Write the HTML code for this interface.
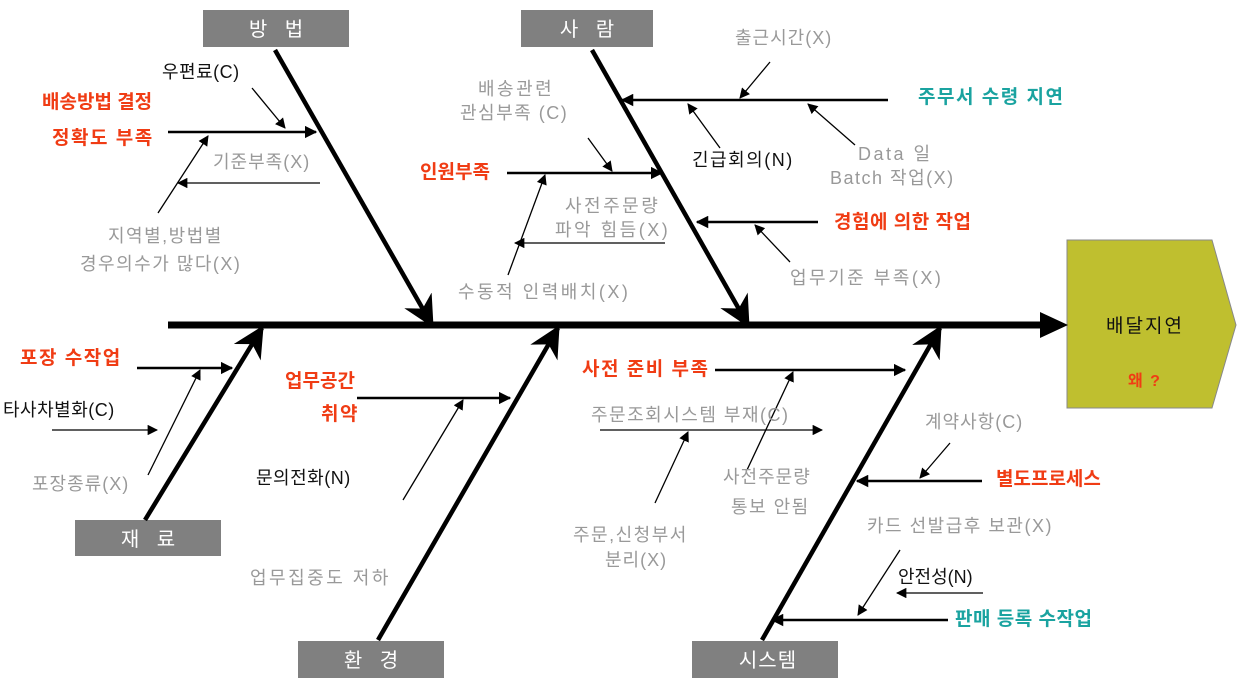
<!DOCTYPE html>
<html><head><meta charset="utf-8"><style>
html,body{margin:0;padding:0;background:#fff;}
svg{display:block;font-family:"Liberation Sans","Noto Sans CJK KR",sans-serif;}
text{letter-spacing:2.5px}
.g{fill:#999;font-size:18px}
.k{fill:#111;font-size:18px}
.r{fill:#f03c14;font-size:19px;font-weight:bold;letter-spacing:1.5px}
.t{fill:#1aa3a0;font-size:19px;font-weight:bold;letter-spacing:1.5px}
.bx{fill:#fff;font-size:20px;text-anchor:middle;letter-spacing:6px}
</style></head><body>
<svg width="1242" height="686" viewBox="0 0 1242 686">
<defs>
<marker id="a" viewBox="0 0 10 10" refX="9" refY="5" markerWidth="5" markerHeight="5" orient="auto"><path d="M0,0 L10,5 L0,10 z" fill="#000"/></marker>
<marker id="b" viewBox="0 0 10 10" refX="9" refY="5" markerWidth="8" markerHeight="8" orient="auto"><path d="M0,0 L10,5 L0,10 z" fill="#000"/></marker>
<marker id="s" viewBox="0 0 10 10" refX="9" refY="5" markerWidth="7" markerHeight="7" orient="auto"><path d="M0,0 L10,5 L0,10 L3,5 z" fill="#000"/></marker>
</defs>
<polygon points="1067,240 1212,240 1236,325 1212,408 1067,408" fill="#bfbf2f" stroke="#888" stroke-width="1"/>
<text x="1106" y="332" style="font-size:19px;fill:#111;letter-spacing:2px">배달지연</text>
<text x="1128" y="386" class="r" style="font-size:16px">왜 ?</text>
<line x1="168" y1="325" x2="1045" y2="325" stroke="#000" stroke-width="7"/>
<polygon points="1040,312 1068,325 1040,338" fill="#000"/>
<rect x="203" y="10" width="146" height="37" fill="#808080"/><text x="279" y="36" class="bx">방 법</text>
<rect x="521" y="10" width="132" height="37" fill="#808080"/><text x="590" y="36" class="bx">사 람</text>
<rect x="75" y="520" width="146" height="36" fill="#808080"/><text x="151" y="546" class="bx">재 료</text>
<rect x="298" y="641" width="146" height="37" fill="#808080"/><text x="374" y="667" class="bx">환 경</text>
<rect x="692" y="641" width="146" height="37" fill="#808080"/><text x="768" y="667" class="bx" style="letter-spacing:1px">시스템</text>
<g stroke="#000" stroke-width="4.5" fill="none" marker-end="url(#s)">
<line x1="275" y1="50" x2="432" y2="325"/>
<line x1="592" y1="50" x2="748" y2="325"/>
<line x1="145" y1="520" x2="262" y2="328"/>
<line x1="378" y1="640" x2="558" y2="328"/>
<line x1="762" y1="640" x2="940" y2="328"/>
</g>
<g stroke="#000" stroke-width="2.5" fill="none" marker-end="url(#a)">
<line x1="168" y1="132" x2="316" y2="132"/>
<line x1="888" y1="100" x2="622" y2="100"/>
<line x1="507" y1="173" x2="662" y2="173"/>
<line x1="818" y1="222" x2="697" y2="222"/>
<line x1="137" y1="368" x2="232" y2="368"/>
<line x1="357" y1="398" x2="510" y2="398"/>
<line x1="715" y1="370" x2="905" y2="370"/>
<line x1="982" y1="481" x2="857" y2="481"/>
<line x1="948" y1="620" x2="772" y2="620"/>
</g>
<g stroke="#000" stroke-width="1.3" fill="none" marker-end="url(#b)">
<line x1="252" y1="88" x2="285" y2="128"/>
<line x1="320" y1="183" x2="178" y2="183"/>
<line x1="158" y1="213" x2="208" y2="136"/>
<line x1="770" y1="62" x2="740" y2="98"/>
<line x1="720" y1="148" x2="688" y2="104"/>
<line x1="855" y1="145" x2="808" y2="104"/>
<line x1="588" y1="138" x2="612" y2="171"/>
<line x1="665" y1="243" x2="515" y2="243"/>
<line x1="508" y1="275" x2="545" y2="175"/>
<line x1="790" y1="262" x2="755" y2="225"/>
<line x1="52" y1="430" x2="157" y2="430"/>
<line x1="148" y1="475" x2="200" y2="370"/>
<line x1="403" y1="500" x2="463" y2="400"/>
<line x1="600" y1="430" x2="822" y2="430"/>
<line x1="655" y1="503" x2="688" y2="432"/>
<line x1="747" y1="470" x2="793" y2="372"/>
<line x1="950" y1="443" x2="920" y2="478"/>
<line x1="983" y1="593" x2="897" y2="593"/>
<line x1="900" y1="550" x2="858" y2="615"/>
</g>
<text x="162" y="78" class="k" style="letter-spacing:0.5px">우편료(C)</text>
<text x="42" y="108" class="r" style="letter-spacing:0">배송방법 결정</text>
<text x="52" y="144" class="r">정확도 부족</text>
<text x="213" y="168" class="g" style="letter-spacing:1px">기준부족(X)</text>
<text x="108" y="242" class="g" style="letter-spacing:1.5px">지역별,방법별</text>
<text x="80" y="270" class="g" style="letter-spacing:1.5px">경우의수가 많다(X)</text>
<text x="478" y="95" class="g">배송관련</text>
<text x="460" y="119" class="g" style="letter-spacing:1.5px">관심부족 (C)</text>
<text x="420" y="178" class="r" style="letter-spacing:0">인원부족</text>
<text x="565" y="212" class="g">사전주문량</text>
<text x="555" y="236" class="g">파악 힘듬(X)</text>
<text x="458" y="298" class="g">수동적 인력배치(X)</text>
<text x="735" y="44" class="g" style="letter-spacing:1px">출근시간(X)</text>
<text x="918" y="103" class="t">주무서 수령 지연</text>
<text x="692" y="166" class="k" style="letter-spacing:1.5px">긴급회의(N)</text>
<text x="858" y="160" class="g">Data 일</text>
<text x="830" y="184" class="g" style="letter-spacing:1.5px">Batch 작업(X)</text>
<text x="834" y="228" class="r" style="letter-spacing:0.5px">경험에 의한 작업</text>
<text x="790" y="284" class="g">업무기준 부족(X)</text>
<text x="20" y="364" class="r">포장 수작업</text>
<text x="3" y="416" class="k" style="letter-spacing:0.5px">타사차별화(C)</text>
<text x="32" y="490" class="g" style="letter-spacing:1px">포장종류(X)</text>
<text x="285" y="387" class="r" style="letter-spacing:0">업무공간</text>
<text x="321" y="420" class="r">취약</text>
<text x="256" y="484" class="k" style="letter-spacing:0.5px">문의전화(N)</text>
<text x="250" y="584" class="g">업무집중도 저하</text>
<text x="582" y="375" class="r">사전 준비 부족</text>
<text x="591" y="421" class="g" style="letter-spacing:1.5px">주문조회시스템 부재(C)</text>
<text x="723" y="483" class="g" style="letter-spacing:1px">사전주문량</text>
<text x="731" y="513" class="g" style="letter-spacing:1.5px">통보 안됨</text>
<text x="573" y="541" class="g" style="letter-spacing:1.5px">주문,신청부서</text>
<text x="605" y="566" class="g" style="letter-spacing:1px">분리(X)</text>
<text x="925" y="428" class="g" style="letter-spacing:1px">계약사항(C)</text>
<text x="996" y="485" class="r" style="letter-spacing:0">별도프로세스</text>
<text x="867" y="532" class="g" style="letter-spacing:1.5px">카드 선발급후 보관(X)</text>
<text x="898" y="583" class="k" style="letter-spacing:0">안전성(N)</text>
<text x="955" y="625" class="t" style="letter-spacing:0.5px">판매 등록 수작업</text>
</svg>
</body></html>
